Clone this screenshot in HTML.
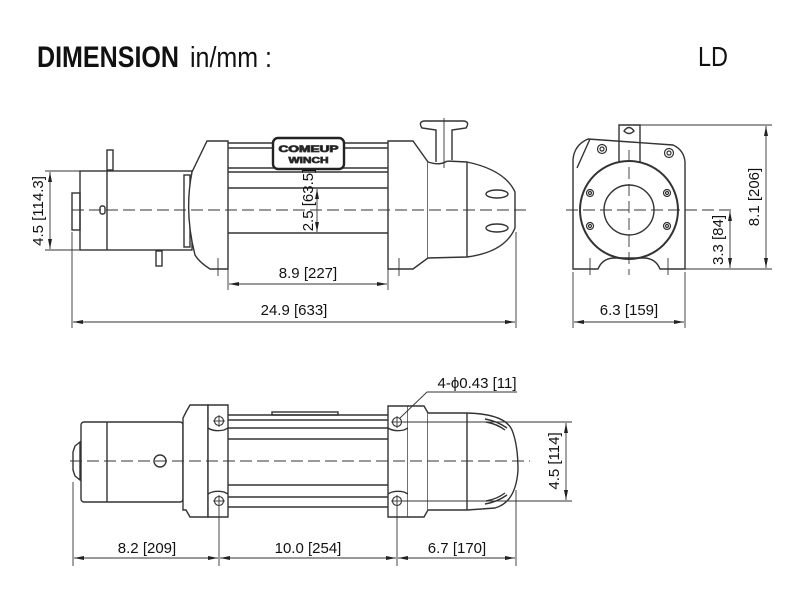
<!DOCTYPE html>
<html><head><meta charset="utf-8"><style>
html,body{margin:0;padding:0;background:#fff;}
svg{display:block;}
text{font-family:"Liberation Sans",sans-serif;fill:#111;}
</style></head><body>
<svg width="800" height="600" viewBox="0 0 800 600" xmlns="http://www.w3.org/2000/svg">
<defs>
<marker id="a" viewBox="0 0 10 4" refX="10" refY="2" markerWidth="10" markerHeight="4" orient="auto-start-reverse" markerUnits="userSpaceOnUse">
<path d="M0,0 L10,2 L0,4 Z" fill="#222"/></marker>
</defs>
<text x="37" y="67" font-size="30" font-weight="bold" textLength="142" lengthAdjust="spacingAndGlyphs">DIMENSION</text>
<text x="190" y="67" font-size="29" textLength="82" lengthAdjust="spacingAndGlyphs">in/mm :</text>
<text x="698" y="66" font-size="28" textLength="30" lengthAdjust="spacingAndGlyphs">LD</text>

<!-- ===== TOP VIEW ===== -->
<g fill="none" stroke="#333" stroke-width="1.4">
<rect x="72" y="193" width="8" height="37"/>
<rect x="80" y="171" width="112" height="79"/>
<line x1="107" y1="171" x2="107" y2="250"/>
<rect x="100" y="206" width="5" height="8" rx="2"/>
<rect x="107" y="150" width="6" height="20"/>
<rect x="156" y="251" width="6" height="15"/>
<rect x="184" y="175" width="6" height="72"/>
<path d="M207,141 L228,141 L228,269 L210,269 Q199,262 195,255 Q184,212 192,172 Z" fill="#fff"/>
<line x1="228" y1="143" x2="388" y2="143"/>
<line x1="228" y1="148" x2="388" y2="148"/>
<line x1="228" y1="168" x2="388" y2="168"/>
<line x1="228" y1="172" x2="388" y2="172"/>
<line x1="228" y1="188" x2="388" y2="188"/>
<line x1="228" y1="233" x2="388" y2="233"/>
<path d="M388,141 L413,141 L428,162 L428,258 L413,269 L388,269 Z" fill="#fff"/>
<path d="M428,162 Q440,166 447,161 L467,162 Q505,170 515,192 L515,228 Q505,252 467,257 L428,258" fill="#fff"/>
<line x1="467" y1="162" x2="467" y2="257"/>
<ellipse cx="497" cy="194" rx="11" ry="4"/>
<ellipse cx="497" cy="228" rx="11" ry="4"/>
<path d="M436,162 L436,130 L422,128 Q418,122 424,121 L464,121 Q470,122 466,128 L452,130 L452,160" fill="#fff"/>
</g>
<rect x="273" y="138" width="71" height="31" rx="5" fill="#fff" stroke="#222" stroke-width="2.4"/>
<text x="308.5" y="152" font-size="9" text-anchor="middle" fill="#fff" stroke="#333" stroke-width="0.8" font-weight="bold" textLength="60" lengthAdjust="spacingAndGlyphs">COMEUP</text>
<text x="308.5" y="163" font-size="8" text-anchor="middle" fill="#fff" stroke="#333" stroke-width="0.7" font-weight="bold" textLength="40" lengthAdjust="spacingAndGlyphs">WINCH</text>
<g stroke="#333" stroke-width="0.9" fill="none">
<line x1="72" y1="210" x2="530" y2="210" stroke-dasharray="12,5"/>
<line x1="444" y1="118" x2="444" y2="168"/>
<line x1="218" y1="258" x2="218" y2="276"/>
<line x1="399" y1="258" x2="399" y2="276"/>
<line x1="45" y1="171" x2="80" y2="171"/>
<line x1="45" y1="250" x2="80" y2="250"/>
<line x1="50" y1="172" x2="50" y2="249" marker-start="url(#a)" marker-end="url(#a)"/>
<line x1="317" y1="189" x2="317" y2="232" marker-start="url(#a)" marker-end="url(#a)"/>
<line x1="228" y1="260" x2="228" y2="290"/>
<line x1="388" y1="260" x2="388" y2="290"/>
<line x1="229" y1="284" x2="387" y2="284" marker-start="url(#a)" marker-end="url(#a)"/>
<line x1="72" y1="232" x2="72" y2="328"/>
<line x1="516" y1="232" x2="516" y2="328"/>
<line x1="73" y1="322" x2="515" y2="322" marker-start="url(#a)" marker-end="url(#a)"/>
</g>
<text transform="translate(43,211) rotate(-90)" font-size="15" text-anchor="middle">4.5 [114.3]</text>
<text transform="translate(313,200) rotate(-90)" font-size="15" text-anchor="middle">2.5 [63.5]</text>
<text x="308" y="278" font-size="15" text-anchor="middle">8.9 [227]</text>
<text x="294" y="315" font-size="15" text-anchor="middle">24.9 [633]</text>

<!-- ===== SIDE VIEW ===== -->
<g fill="none" stroke="#333" stroke-width="1.4">
<path d="M573,269 L573,160 Q574,145 588,139 L673,145 Q684,150 685,162 L685,269 L660,269 Q656,259 645,258 L613,258 Q602,259 598,269 Z" fill="#fff"/>
<path d="M577,168 L590,139"/>
<path d="M619,162 L619,125 L640,125 L640,162"/>
<path d="M624,131 Q629,124 634,131 Q629,136 624,131 Z"/>
<circle cx="629" cy="210" r="49" stroke-width="2"/>
<circle cx="629" cy="210" r="25"/>
</g>
<g fill="none" stroke="#333" stroke-width="1.2">
<circle cx="602" cy="149" r="4.5"/><circle cx="602" cy="149" r="2"/>
<circle cx="669" cy="153" r="4.5"/><circle cx="669" cy="153" r="2"/>
<circle cx="590" cy="193" r="3.5"/><circle cx="590" cy="193" r="1.5"/>
<circle cx="667" cy="193" r="3.5"/><circle cx="667" cy="193" r="1.5"/>
<circle cx="590" cy="226" r="3.5"/><circle cx="590" cy="226" r="1.5"/>
<circle cx="667" cy="226" r="3.5"/><circle cx="667" cy="226" r="1.5"/>
</g>
<g stroke="#333" stroke-width="0.9" fill="none">
<line x1="566" y1="210" x2="735" y2="210" stroke-dasharray="12,5"/>
<line x1="629" y1="150" x2="629" y2="275" stroke-dasharray="12,5"/>
<line x1="590" y1="258" x2="590" y2="275"/>
<line x1="668" y1="258" x2="668" y2="275"/>
<line x1="640" y1="125" x2="772" y2="125"/>
<line x1="685" y1="269" x2="772" y2="269"/>
<line x1="766" y1="126" x2="766" y2="268" marker-start="url(#a)" marker-end="url(#a)"/>
<line x1="730" y1="211" x2="730" y2="268" marker-start="url(#a)" marker-end="url(#a)"/>
<line x1="573" y1="272" x2="573" y2="328"/>
<line x1="685" y1="272" x2="685" y2="328"/>
<line x1="574" y1="322" x2="684" y2="322" marker-start="url(#a)" marker-end="url(#a)"/>
</g>
<text transform="translate(759,197) rotate(-90)" font-size="15" text-anchor="middle">8.1 [206]</text>
<text transform="translate(723,240) rotate(-90)" font-size="15" text-anchor="middle">3.3 [84]</text>
<text x="629" y="315" font-size="15" text-anchor="middle">6.3 [159]</text>

<!-- ===== BOTTOM VIEW ===== -->
<g fill="none" stroke="#333" stroke-width="1.4">
<path d="M80,442 L75,446 L73,452 L73,470 L75,476 L80,480 Z"/>
<rect x="81" y="422" width="102" height="80" rx="3"/>
<line x1="107" y1="422" x2="107" y2="502"/>
<circle cx="160" cy="461" r="6"/>
<path d="M190,405 L208,405 L208,517 L190,517 L186,510 L183,510 L183,418 L186,412 Z" fill="#fff"/>
<rect x="272" y="412" width="66" height="3"/>
<line x1="228" y1="415" x2="388" y2="415"/>
<line x1="228" y1="420" x2="388" y2="420"/>
<line x1="228" y1="428" x2="388" y2="428"/>
<line x1="228" y1="439" x2="388" y2="439"/>
<line x1="228" y1="485" x2="388" y2="485"/>
<line x1="228" y1="497" x2="388" y2="497"/>
<line x1="228" y1="507" x2="388" y2="507"/>
<path d="M208,405 L228,405 L228,517 L208,517 Z" fill="#fff"/>
<path d="M208,428 Q214,432 224,430 L228,428 M208,494 Q214,490 224,492 L228,494"/>
<path d="M388,406 L408,406 L408,517 L388,517 Z" fill="#fff"/>
<path d="M388,428 Q394,432 404,430 L408,428 M388,494 Q394,490 404,492 L408,494"/>
<path d="M408,406 L424,406 L428,413 L428,510 L424,517 L408,517" fill="#fff"/>
<path d="M428,413 L467,413 Q505,414 512,430 Q518,445 518,470 Q516,502 495,508 L467,510 L428,510" fill="#fff"/>
<line x1="467" y1="413" x2="467" y2="510"/>
<path d="M485,419 Q497,421 507,428 M486,422 Q497,424 505,430"/>
<path d="M485,504 Q497,502 507,495 M486,501 Q497,499 505,493"/>
</g>
<g fill="none" stroke="#333" stroke-width="1.1">
<circle cx="219" cy="421" r="4.5"/><circle cx="219" cy="501" r="4.5"/>
<circle cx="397" cy="422" r="4.5"/><circle cx="397" cy="501" r="4.5"/>
</g>
<g stroke="#333" stroke-width="0.9" fill="none">
<line x1="70" y1="461" x2="530" y2="461" stroke-dasharray="12,5"/>
<line x1="219" y1="415" x2="219" y2="427"/><line x1="213" y1="421" x2="225" y2="421"/>
<line x1="397" y1="416" x2="397" y2="428"/><line x1="391" y1="422" x2="403" y2="422"/>
<line x1="213" y1="501" x2="225" y2="501"/><line x1="391" y1="501" x2="403" y2="501"/>
<line x1="73" y1="482" x2="73" y2="566"/>
<line x1="219" y1="495" x2="219" y2="566"/>
<line x1="397" y1="495" x2="397" y2="566"/>
<line x1="516" y1="490" x2="516" y2="566"/>
<line x1="74" y1="558" x2="218" y2="558" marker-start="url(#a)" marker-end="url(#a)"/>
<line x1="220" y1="558" x2="396" y2="558" marker-start="url(#a)" marker-end="url(#a)"/>
<line x1="398" y1="558" x2="515" y2="558" marker-start="url(#a)" marker-end="url(#a)"/>
<line x1="403" y1="422" x2="572" y2="422"/>
<line x1="403" y1="501" x2="572" y2="501"/>
<line x1="566" y1="423" x2="566" y2="500" marker-start="url(#a)" marker-end="url(#a)"/>
<line x1="517" y1="392" x2="427" y2="392"/>
<line x1="427" y1="392" x2="400" y2="418"/>
</g>
<text x="477" y="388" font-size="15" text-anchor="middle">4-ϕ0.43 [11]</text>
<text transform="translate(559,461) rotate(-90)" font-size="15" text-anchor="middle">4.5 [114]</text>
<text x="147" y="553" font-size="15" text-anchor="middle">8.2 [209]</text>
<text x="308" y="553" font-size="15" text-anchor="middle">10.0 [254]</text>
<text x="457" y="553" font-size="15" text-anchor="middle">6.7 [170]</text>
</svg>
</body></html>
